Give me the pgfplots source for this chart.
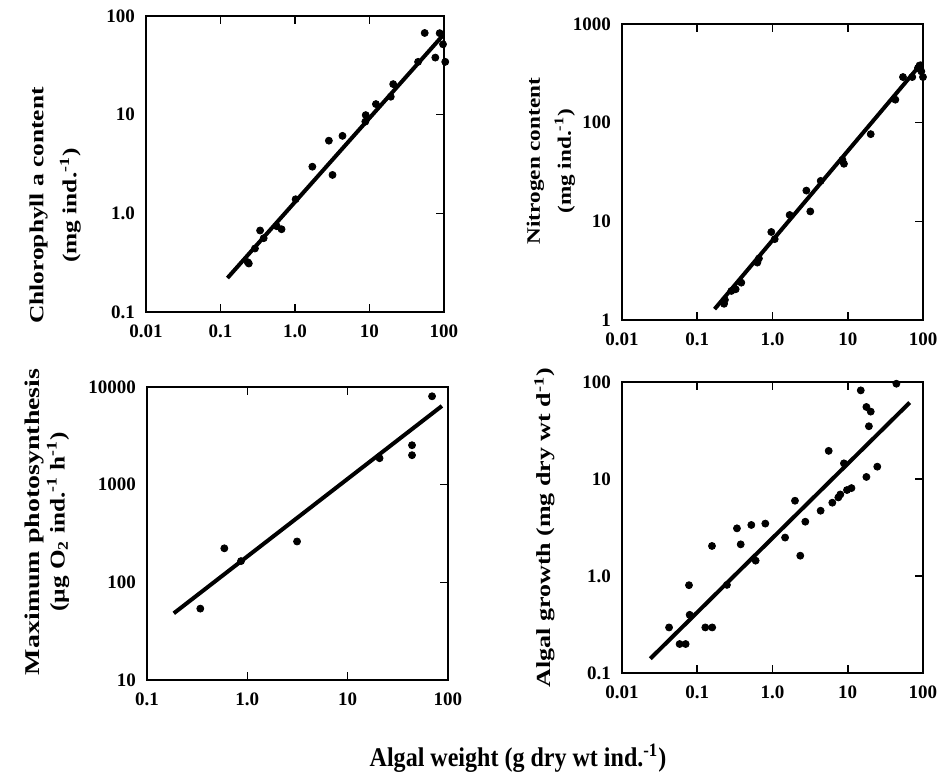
\documentclass[border=0pt]{standalone}
\usepackage{pgfplots}
\pgfplotsset{compat=1.18}
\usepackage{graphicx}
\usepackage{fontspec}
\setmainfont{Liberation Serif}

\begin{document}
\begin{tikzpicture}
\path[use as bounding box] (0,0) rectangle (471.5pt,-388pt);

% chlorophyll
\begin{loglogaxis}[scale only axis, clip=false,
    at={(73pt,-8pt)}, anchor=north west,
    width=149pt, height=148pt,
    axis line style={line width=0.7pt},
    tick align=inside, major tick length=4pt,
    xtick style={draw=black, line width=0.8pt},
    ytick style={draw=black, line width=0.8pt},
    xminorticks=false, yminorticks=false,
    ytick pos=right, yticklabel pos=left,
    ticklabel style={font=\fontsize{9.5}{11}\selectfont\bfseries},
    xticklabel style={yshift=-3pt}, yticklabel style={xshift=-2pt},
    xmin=0.01, xmax=100, ymin=0.1, ymax=100,
    xtick={0.01,0.1,1,10,100}, xticklabels={0.01,0.1,1.0,10,100},
    ytick={0.1,1,10,100}, yticklabels={0.1,1.0,10,100},
    ylabel={\scalebox{1.27}[1]{Chlorophyll a content}\\\scalebox{1.27}[1]{(mg ind.\textsuperscript{-1})}},
    ylabel style={at={(axis description cs:-0.305,0.36)}, anchor=center,
      align=center, font=\fontsize{10}{16.5}\selectfont\bfseries},
  ]
  \addplot[only marks, mark=*, mark size=1.75pt, black] coordinates {
    (0.232,0.32) (0.24,0.31) (0.29,0.44) (0.34,0.67) (0.38,0.56)
    (0.57,0.74) (0.66,0.69) (1.02,1.39) (1.71,2.97) (2.85,5.45)
    (3.19,2.45) (4.34,6.1) (8.8,8.5) (8.9,9.9) (12.2,12.8)
    (19.3,15.2) (20.8,20.4) (44.9,34.3) (55.1,67.3) (76.5,37.9)
    (87.5,67) (97,51.7) (104,34.3)
  };
  \addplot[no marks, line width=2pt, black] coordinates {(0.124,0.221) (97,63.8)};
\end{loglogaxis}

% nitrogen
\begin{loglogaxis}[scale only axis, clip=false,
    at={(311pt,-12pt)}, anchor=north west,
    width=150.5pt, height=148pt,
    axis line style={line width=0.7pt},
    tick align=inside, major tick length=4pt,
    xtick style={draw=black, line width=0.8pt},
    ytick style={draw=black, line width=0.8pt},
    xminorticks=false, yminorticks=false,
    ytick pos=right, yticklabel pos=left,
    ticklabel style={font=\fontsize{9.5}{11}\selectfont\bfseries},
    xticklabel style={yshift=-3pt}, yticklabel style={xshift=-2pt},
    xmin=0.01, xmax=100, ymin=1, ymax=1000,
    xtick={0.01,0.1,1,10,100}, xticklabels={0.01,0.1,1.0,10,100},
    ytick={1,10,100,1000}, yticklabels={1,10,100,1000},
    ylabel={\scalebox{1.22}[1]{Nitrogen content}\\\scalebox{1.22}[1]{(mg ind.\textsuperscript{-1})}},
    ylabel style={at={(axis description cs:-0.236,0.537)}, anchor=center,
      align=center, font=\fontsize{9.5}{15.5}\selectfont\bfseries},
  ]
  \addplot[only marks, mark=*, mark size=1.75pt, black] coordinates {
    (0.227,1.46) (0.233,1.6) (0.284,1.97) (0.324,2.05) (0.385,2.39)
    (0.629,3.82) (0.66,4.2) (0.964,7.8) (1.07,6.6) (1.69,11.6)
    (2.82,20.5) (3.18,12.6) (4.37,25.7) (8.5,42) (8.9,38.3)
    (20.2,76.5) (42.9,171) (54.2,290) (72,290) (85.7,358)
    (90,380) (95,331) (100,290)
  };
  \addplot[no marks, line width=2pt, black] coordinates {(0.17,1.29) (98,408)};
\end{loglogaxis}

% photosynthesis
\begin{loglogaxis}[scale only axis, clip=false,
    at={(73.5pt,-193.5pt)}, anchor=north west,
    width=150.5pt, height=146.5pt,
    axis line style={line width=0.7pt},
    tick align=inside, major tick length=4pt,
    xtick style={draw=black, line width=0.8pt},
    ytick style={draw=black, line width=0.8pt},
    xminorticks=false, yminorticks=false,
    ytick pos=right, yticklabel pos=left,
    ticklabel style={font=\fontsize{9.5}{11}\selectfont\bfseries},
    xticklabel style={yshift=-3pt}, yticklabel style={xshift=-2pt},
    xmin=0.1, xmax=100, ymin=10, ymax=10000,
    xtick={0.1,1,10,100}, xticklabels={0.1,1.0,10,100},
    ytick={10,100,1000,10000}, yticklabels={10,100,1000,10000},
    ylabel={\scalebox{1.33}[1]{Maximum photosynthesis}\\\scalebox{1.2}[1]{(µg O\textsubscript{2} ind.\textsuperscript{-1} h\textsuperscript{-1})}},
    ylabel style={at={(axis description cs:-0.332,0.54)}, anchor=center,
      align=center, font=\fontsize{10.5}{12.5}\selectfont\bfseries},
  ]
  \addplot[only marks, mark=*, mark size=1.75pt, black] coordinates {
    (0.34,53.8) (0.59,223) (0.865,165) (3.13,262) (20.8,1866)
    (43.8,2535) (43.8,2004) (69.4,8035)
  };
  \addplot[no marks, line width=2pt, black] coordinates {(0.185,48.2) (87,6395)};
\end{loglogaxis}

% growth
\begin{loglogaxis}[scale only axis, clip=false,
    at={(311pt,-191pt)}, anchor=north west,
    width=150.5pt, height=145.5pt,
    axis line style={line width=0.7pt},
    tick align=inside, major tick length=4pt,
    xtick style={draw=black, line width=0.8pt},
    ytick style={draw=black, line width=0.8pt},
    xminorticks=false, yminorticks=false,
    ytick pos=right, yticklabel pos=left,
    ticklabel style={font=\fontsize{9.5}{11}\selectfont\bfseries},
    xticklabel style={yshift=-3pt}, yticklabel style={xshift=-2pt},
    xmin=0.01, xmax=100, ymin=0.1, ymax=100,
    xtick={0.01,0.1,1,10,100}, xticklabels={0.01,0.1,1.0,10,100},
    ytick={0.1,1,10,100}, yticklabels={0.1,1.0,10,100},
    ylabel={\scalebox{1.3}[1]{Algal growth (mg dry wt d\textsuperscript{-1})}},
    ylabel style={at={(axis description cs:-0.256,0.5)}, anchor=center,
      font=\fontsize{10}{12}\selectfont\bfseries},
  ]
  \addplot[only marks, mark=*, mark size=1.75pt, black] coordinates {
    (0.0422,0.295) (0.0583,0.199) (0.0701,0.199) (0.0777,0.804)
    (0.0793,0.398) (0.128,0.295) (0.158,0.295) (0.157,2.04)
    (0.248,0.81) (0.337,3.1) (0.378,2.12) (0.523,3.36) (0.597,1.44)
    (0.803,3.47) (1.47,2.49) (1.99,5.97) (2.34,1.62) (2.73,3.63)
    (4.36,4.71) (5.58,19.5) (6.24,5.7) (7.5,6.46) (7.97,6.93)
    (8.9,14.5) (9.77,7.7) (11.2,8.06) (14.9,82) (17.7,10.5)
    (17.7,55.3) (19.1,35) (20.2,49.5) (24.7,13.4) (44.3,96)
  };
  \addplot[no marks, line width=2pt, black] coordinates {(0.0238,0.1406) (66.5,61.3)};
\end{loglogaxis}

\node[font=\fontsize{13.5}{15}\selectfont\bfseries] at (259pt,-379pt)
  {\scalebox{0.89}[1]{Algal weight (g dry wt ind.\textsuperscript{-1})}};
\end{tikzpicture}
\end{document}
